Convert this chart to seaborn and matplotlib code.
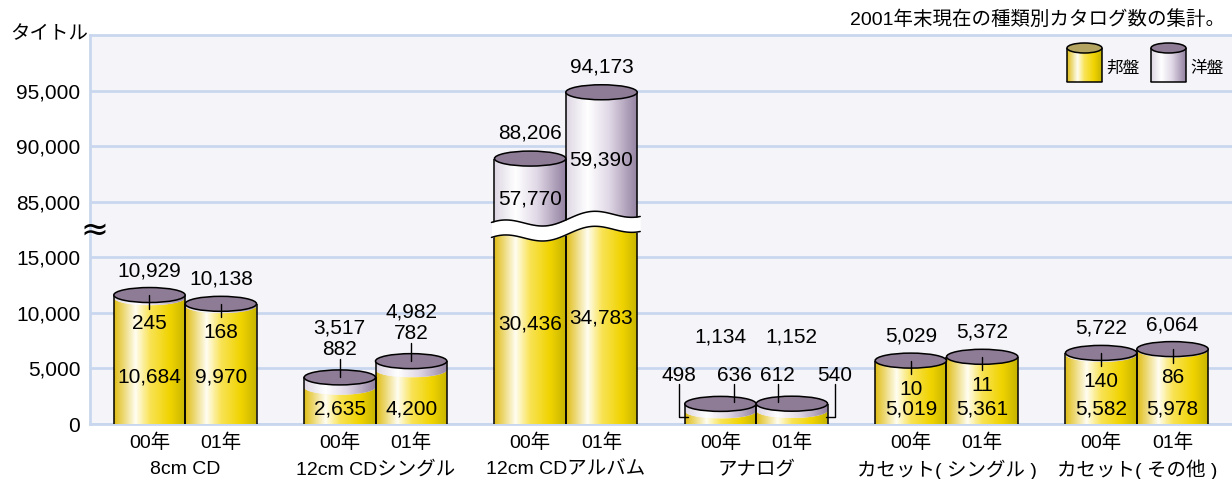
"""Catalog counts by media type, drawn as stacked cylinders on a broken axis."""

import matplotlib
import numpy as np
import pandas as pd
import seaborn as sns
from matplotlib.colors import LinearSegmentedColormap
from matplotlib.patches import Ellipse, Polygon

matplotlib.use("Agg")
import matplotlib.pyplot as plt

categories = ["8cm CD", "12cm CDシングル", "12cm CDアルバム", "アナログ",
              "カセット( シングル )", "カセット( その他 )"]
years = ["00年", "01年"]
domestic_00 = [10684, 2635, 30436, 498, 5019, 5582]
domestic_01 = [9970, 4200, 34783, 540, 5361, 5978]
foreign_00 = [245, 882, 57770, 636, 10, 140]
foreign_01 = [168, 782, 59390, 612, 11, 86]
tick_values = [0, 5000, 10000, 15000, 85000, 90000, 95000]
tick_labels = ["0", "5,000", "10,000", "15,000", "85,000", "90,000", "95,000"]
legend_labels = ["邦盤", "洋盤"]

# how the value labels are arranged for each category
label_style = ["inside", "above", "split", "side", "inside", "inside"]

W, H = 1232, 479
AX_LEFT, AX_TOP, AX_BOTTOM = 90, 35, 424
YMAX = 35000
PXY = YMAX / (AX_BOTTOM - AX_TOP)      # data units per pixel (y)
PXX = len(categories) / (W - AX_LEFT)  # data units per pixel (x)
EH = 15 * PXY                          # height of the cylinder tops
FS_NUM = 15
FS = 14

YELLOW = LinearSegmentedColormap.from_list(
    "yellow", [(0, "#dfbc14"), (0.3, "#fffdf0"), (0.5, "#f9e356"), (0.78, "#f0d300"), (1, "#c6b400")])
LILAC = LinearSegmentedColormap.from_list(
    "lilac", [(0, "#ddd6e3"), (0.3, "#ffffff"), (0.6, "#e0d8e6"), (1, "#9280a0")])
TOP_PURPLE = "#8e7b95"
GRID = "#c9d7ee"
GRAD = np.linspace(0, 1, 256).reshape(1, -1)


def to_axis(v):
    """Map a value onto the broken axis (15,000 .. 85,000 is cut out)."""
    if v <= 17500:
        return v
    if v >= 82500:
        return v - 65000
    return 17500


def flat(x0, x1, y):
    return np.array([[x0, y], [x1, y]])


def arc(x0, x1, yc, h):
    t = np.linspace(np.pi, 2 * np.pi, 40)
    xc, w = (x0 + x1) / 2, x1 - x0
    return np.column_stack([xc + w / 2 * np.cos(t), yc + h / 2 * np.sin(t)])


def draw_segment(ax, bottom, top, cmap, z=3, lw=1.1):
    verts = np.vstack([top, bottom[::-1]])
    poly = Polygon(verts, closed=True, facecolor="none", edgecolor="none", zorder=z)
    ax.add_patch(poly)
    img = ax.imshow(GRAD, cmap=cmap, aspect="auto", interpolation="bilinear", zorder=z,
                    extent=(verts[:, 0].min(), verts[:, 0].max(), verts[:, 1].min(), verts[:, 1].max()))
    img.set_clip_path(poly)
    for a, b in ((top[0], bottom[0]), (top[-1], bottom[-1])):
        ax.plot([a[0], b[0]], [a[1], b[1]], color="black", lw=lw, zorder=z + 0.1,
                solid_capstyle="butt")


def band_top(u):
    return 17800 + 1300 * u - 450 * np.sin(2 * np.pi * (u - 0.22) / 0.6)


sns.set_style("white")
plt.rcParams["font.family"] = ["Liberation Sans", "Noto Sans CJK JP"]
plt.rcParams["text.color"] = "black"
plt.rcParams["ytick.color"] = "black"

df = pd.DataFrame({
    "category": categories * 2,
    "year": [years[0]] * len(categories) + [years[1]] * len(categories),
    "domestic": domestic_00 + domestic_01,
    "foreign": foreign_00 + foreign_01,
})
df["total"] = df["domestic"] + df["foreign"]
df["total_axis"] = df["total"].map(to_axis)

fig = plt.figure(figsize=(W / 100, H / 100), dpi=100)
ax = fig.add_axes([AX_LEFT / W, (H - AX_BOTTOM) / H, (W - AX_LEFT) / W, (AX_BOTTOM - AX_TOP) / H])
ax.set_facecolor("#f4f4f9")
sns.barplot(data=df, x="category", y="total_axis", hue="year", width=0.75,
            errorbar=None, legend=False, ax=ax)

bars = list(ax.patches)
bar_w = bars[0].get_width()
split_cat = label_style.index("split")
band_l = split_cat - bar_w - 3 * PXX
band_r = split_cat + bar_w + 3 * PXX


def band_mid(x):
    return band_top((x - band_l) / (band_r - band_l)) - EH / 2


def label(x, y, s, **kw):
    ax.text(x, y, s, ha="center", va="center", fontsize=FS_NUM, zorder=8, **kw)


def tick(x, y0, y1):
    ax.plot([x, x], [y0, y1], color="black", lw=1, zorder=7)


for patch in bars:
    patch.set_visible(False)
    x0 = patch.get_x()
    x1 = x0 + patch.get_width()
    xc = (x0 + x1) / 2
    cat = int(round(xc))
    hue = 0 if xc < cat else 1
    row = df[(df["category"] == categories[cat]) & (df["year"] == years[hue])].iloc[0]
    tot = to_axis(row["total"])
    jp = to_axis(row["domestic"])
    style = label_style[cat]
    cap = tot + EH / 2
    top = tot + EH

    if style == "split":
        xs = np.linspace(x0, x1, 40)
        curve = np.column_stack([xs, band_mid(xs)])
        draw_segment(ax, flat(x0, x1, 0), curve, YELLOW)
        draw_segment(ax, curve, flat(x0, x1, cap), LILAC)
    else:
        seam = arc(x0, x1, jp + EH / 2, EH)
        draw_segment(ax, flat(x0, x1, 0), seam, YELLOW)
        draw_segment(ax, seam, flat(x0, x1, cap), LILAC)
    ax.add_patch(Ellipse((xc, cap), x1 - x0, EH, facecolor=TOP_PURPLE,
                         edgecolor="black", lw=1.1, zorder=4))

    tot_s = f"{row['total']:,}"
    fg_s = f"{row['foreign']:,}"
    jp_s = f"{row['domestic']:,}"
    if style == "inside":
        label(xc, top + 17 * PXY, tot_s)
        tick(xc, cap, tot - 6 * PXY)
        label(xc, tot - 21 * PXY, fg_s)
        label(xc, 4200 if jp > 8000 else 1350, jp_s)
    elif style == "above":
        label(xc, top + 42 * PXY, tot_s)
        label(xc, top + 20 * PXY, fg_s)
        tick(xc, cap, top + 11 * PXY)
        label(xc, 1350, jp_s)
    elif style == "side":
        sign = 1 if hue == 0 else -1
        row_y = top + 21 * PXY
        label(xc, row_y + 38 * PXY, tot_s)
        fx = xc + sign * 14 * PXX
        label(fx, row_y, fg_s)
        tick(fx, row_y - 9 * PXY, cap + 0.1 * EH)
        jx = x0 - 6 * PXX if hue == 0 else x1 + 7 * PXX
        label(jx, row_y, jp_s)
        lead_y = jp + 1 * PXY
        ax.plot([jx, jx, jx + sign * 9 * PXX], [row_y - 9 * PXY, lead_y, lead_y],
                color="black", lw=1, zorder=7)
    else:
        label(xc, top + 18 * PXY, tot_s)
        label(xc, (band_mid(xc) + tot) / 2, fg_s)
        label(xc, band_mid(xc) * 0.52, jp_s)

    ax.annotate(row["year"], xy=(xc, 0), xycoords=("data", "axes fraction"),
                xytext=(0, -19), textcoords="offset pixels",
                ha="center", va="center", fontsize=FS)

# white wave over the cut album bars
xs = np.linspace(band_l, band_r, 120)
upper = band_top((xs - band_l) / (band_r - band_l))
lower = upper - EH
ax.fill_between(xs, lower, upper, color="white", lw=0, zorder=5)
ax.plot(xs, upper, color="black", lw=1.1, zorder=5.1)
ax.plot(xs, lower, color="black", lw=1.1, zorder=5.1)

for i, cat in enumerate(categories):
    ax.annotate(cat, xy=(i, 0), xycoords=("data", "axes fraction"),
                xytext=(0, -46), textcoords="offset pixels",
                ha="center", va="center", fontsize=FS)

ax.set_xlim(-0.5, len(categories) - 0.5)
ax.set_ylim(0, YMAX)
ax.set_xticks([])
ax.set_yticks([to_axis(v) for v in tick_values])
ax.set_yticklabels(tick_labels, fontsize=FS_NUM)
ax.tick_params(axis="y", length=0, pad=7)
ax.set_xlabel("")
ax.set_ylabel("")
ax.yaxis.grid(True, color=GRID, lw=2)
ax.set_axisbelow(True)
for side in ("left", "top", "bottom"):
    ax.spines[side].set_color(GRID)
    ax.spines[side].set_linewidth(2)
ax.spines["right"].set_visible(False)
ax.annotate("≈", xy=(0, 17450), xycoords=("axes fraction", "data"),
            xytext=(4, 0), textcoords="offset pixels", family="DejaVu Sans",
            ha="center", va="center", fontsize=24, annotation_clip=False)

# legend and headings on a pixel overlay
ov = fig.add_axes([0, 0, 1, 1])
ov.patch.set_alpha(0)
for x0, cmap, cap_color, text in ((1067, YELLOW, "#b3a462", legend_labels[0]),
                                  (1151, LILAC, TOP_PURPLE, legend_labels[1])):
    x1 = x0 + 35
    draw_segment(ov, flat(x0, x1, 82), flat(x0, x1, 48), cmap, z=3)
    ov.plot([x0, x1], [82, 82], color="black", lw=1.1, zorder=3.1)
    ov.add_patch(Ellipse(((x0 + x1) / 2, 48), 35, 10, facecolor=cap_color,
                         edgecolor="black", lw=1.1, zorder=4))
    ov.text(x1 + 4, 68, text, ha="left", va="center", fontsize=12)
ov.set_xlim(0, W)
ov.set_ylim(H, 0)
ov.axis("off")

fig.text(10 / W, 1 - 35 / H, "タイトル", ha="left", va="center", fontsize=14)
fig.text(1225 / W, 1 - 20 / H, "2001年末現在の種類別カタログ数の集計。",
         ha="right", va="center", fontsize=14)

fig.savefig("out.png", dpi=100)
plt.close(fig)
